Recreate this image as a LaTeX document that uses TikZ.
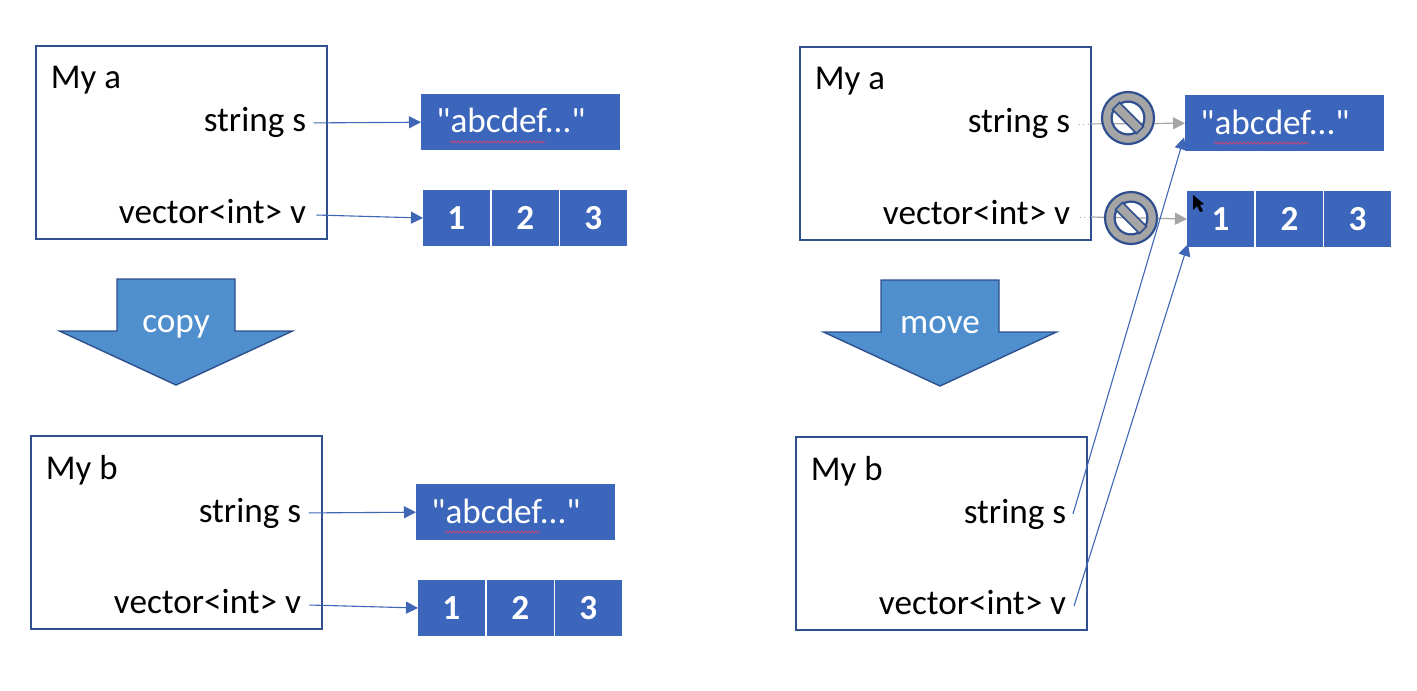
\documentclass[tikz,border=0pt]{standalone}
\usepackage{fontspec}
\setmainfont{Carlito}[Ligatures=TeXOff]
\usetikzlibrary{arrows.meta,decorations.pathmorphing,calc}
\definecolor{cellblue}{HTML}{3B66BC}
\definecolor{edgeblue}{HTML}{2F4F8F}
\definecolor{lineblue}{HTML}{3F67B5}
\definecolor{arrowblue}{HTML}{4F8FCE}
\definecolor{signgray}{HTML}{A5A5A5}
\definecolor{squiggle}{HTML}{C2477A}
\tikzset{
  panelbox/.style={draw=edgeblue,line width=1pt,fill=white,rectangle,anchor=north west,inner sep=0pt,outer sep=0pt,minimum width=145.5pt,minimum height=96.5pt},
  title/.style={anchor=base west,inner sep=0pt,font=\fontsize{17.4}{20}\selectfont},
  member/.style={anchor=base east,inner sep=0pt,font=\fontsize{17.6}{20}\selectfont},
  strbox/.style={fill=cellblue,rectangle,anchor=north west,inner sep=0pt,outer sep=0pt,minimum width=99.5pt,minimum height=28.2pt},
  strtext/.style={anchor=base west,inner sep=0pt,text=white,font=\fontsize{17.6}{20}\selectfont},
  cell/.style={fill=cellblue,rectangle,anchor=north west,inner sep=0pt,outer sep=0pt,minimum width=33.4pt,minimum height=28pt,text=white,font=\fontsize{17.6}{20}\selectfont\bfseries},
  link/.style={draw=lineblue,line width=.55pt,-{Triangle[length=6pt,width=6pt,fill=lineblue]}},
  grayarrow/.style={draw=signgray,line width=.6pt,-{Triangle[length=6pt,width=6pt,fill=signgray]}},
  graydots/.style={draw=signgray,line width=.4pt,dotted},
  blockarrow/.style={fill=arrowblue,draw=edgeblue,line width=.7pt,line join=miter},
  blocktext/.style={text=white,inner sep=0pt,anchor=base,font=\fontsize{17.6}{20}\selectfont},
  wavy/.style={draw=squiggle,line width=.45pt,decorate,decoration={snake,amplitude=.5pt,segment length=1.8pt}},
  ringsign/.style={fill=signgray,draw=edgeblue,line width=1.1pt,even odd rule},
  barsign/.style={fill=signgray,draw=edgeblue,line width=.8pt},
}
% prefix, panel x, y, title
\newcommand{\panelgroup}[4]{%
  \node[panelbox] (#1box) at (#2,#3) {};
  \node[title] (#1title) at ($(#2,#3)+(14.5,43)$) {My #4};
  \node[member] (#1s) at ($(#2,#3)+(270.5,86)$) {string s};
  \node[member] (#1v) at ($(#2,#3)+(270.5,177)$) {vector<int> v};
}
% prefix, data x, y
\newcommand{\datagroup}[3]{%
  \node[strbox] (#1str) at (#2,#3) {};
  \node[strtext] (#1strt) at ($(#2,#3)+(15,39)$) {"abcdef..."};
  \draw[wavy] ($(#2,#3)+(29,48)$) -- ($(#2,#3)+(124,48)$);
  \node[cell] (#1c1) at ($(#2,#3)+(2,96)$) {1};
  \node[cell] (#1c2) at ($(#2,#3)+(71,96)$) {2};
  \node[cell] (#1c3) at ($(#2,#3)+(139,96)$) {3};
}
\newcommand{\blockshape}[4]{%
  \path[blockarrow] (#1,#2) ++(-59,0) -- ++(118,0) -- ++(0,52) -- ++(57.5,0)
     -- ++(-116.5,54) -- ++(-116.5,-54) -- ++(57.5,0) -- cycle;
  \node[blocktext] (#4) at ($(#1,#2)+(0,53)$) {#3};
}
\newcommand{\nosign}[2]{%
  \path[ringsign] (#1,#2) circle[radius=13pt] (#1,#2) circle[radius=8.2pt];
  \path[barsign,rotate around={-45:(#1,#2)}] ($(#1,#2)+(-17,-5)$) rectangle ($(#1,#2)+(17,5)$);
}
\begin{document}
\begin{tikzpicture}[x=.5pt,y=-.5pt]
\useasboundingbox (0,0) rectangle (1417,690);
\fill[white] (0,0) rectangle (1417,690);
\panelgroup{ta}{36}{46}{a}
\datagroup{ta}{421}{94}
\panelgroup{tb}{31}{436}{b}
\datagroup{tb}{416}{484}
\panelgroup{ma}{800}{47}{a}
\datagroup{ma}{1185}{95}
\panelgroup{mb}{796}{437}{b}
\blockshape{176}{279}{copy}{copylabel}
\blockshape{940}{280}{move}{movelabel}
% copy links
\draw[link] ($(tas.east)+(7,0)$) -- (tastr.west);
\draw[link] ($(tav.east)+(10,4)$) -- (tac1.west);
\draw[link] ($(tbs.east)+(7,0)$) -- (tbstr.west);
\draw[link] ($(tbv.east)+(8,4)$) -- (tbc1.west);
% severed links
\coordinate (gone) at (mabox.east |- mas.east);
\coordinate (gtwo) at ($(mabox.east |- mav.east)+(0,5)$);
\draw[graydots] ($(mas.east)+(8,0)$) -- (gone);
\draw[graydots] ($(mav.east)+(9,5)$) -- (gtwo);
\draw[grayarrow] (gone) -- (mastr.west);
\draw[grayarrow] (gtwo) -- (mac1.west);
\nosign{1128}{118}
\nosign{1131}{218}
% moved links
\draw[link] ($(mbs.east)+(6.5,0)$) -- ($(mastr.south west)+(-1,-14)$);
\draw[link] ($(mbv.east)+(7.5,4)$) -- ($(mac1.south west)+(1,-3)$);
% mouse pointer
\fill[black] (1193,195) -- (1193,210) -- (1197,206) -- (1200,212) -- (1203,211) -- (1200,205) -- (1204,204) -- cycle;
\end{tikzpicture}
\end{document}
